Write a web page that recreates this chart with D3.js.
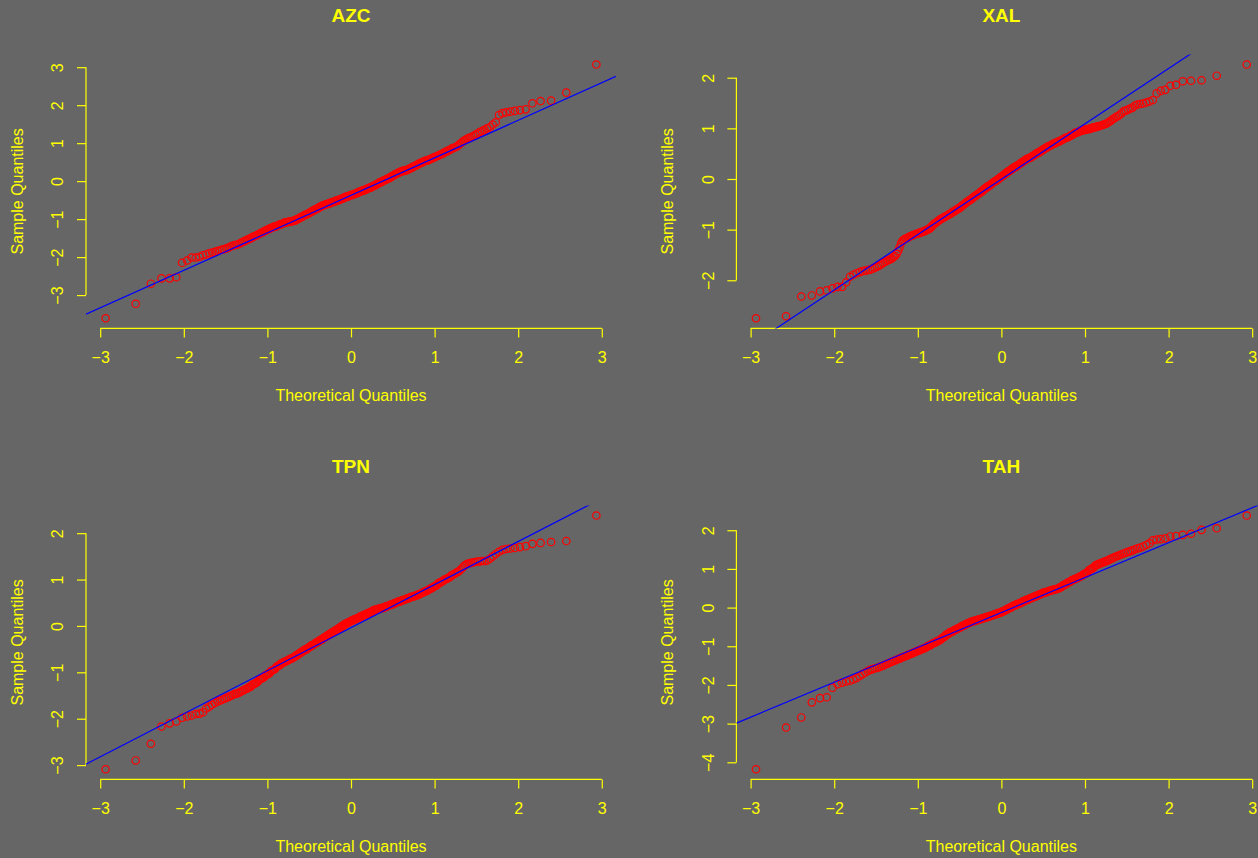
<!DOCTYPE html>
<html>
<head>
<meta charset="utf-8">
<script src="https://cdn.jsdelivr.net/npm/d3@7"></script>
<style>
  html, body { margin: 0; padding: 0; background: #666666; }
  svg { display: block; }
  text { font-family: "Liberation Sans", Arial, Helvetica, sans-serif; }
</style>
</head>
<body>
<svg id="chart" width="1258" height="858"></svg>
<script>
// Normal Q-Q plots of four standardised series (300 observations each), sorted sample values.
const seriesNames = ["AZC", "XAL", "TPN", "TAH"];

const azcValues = [
  -3.61,-3.23,-2.70,-2.56,-2.56,-2.53,-2.15,-2.09,-2.01,-2.01,
  -1.99,-1.95,-1.93,-1.90,-1.88,-1.86,-1.84,-1.82,-1.80,-1.79,
  -1.77,-1.75,-1.72,-1.70,-1.68,-1.68,-1.66,-1.64,-1.62,-1.60,
  -1.58,-1.56,-1.54,-1.52,-1.51,-1.48,-1.46,-1.45,-1.43,-1.42,
  -1.39,-1.38,-1.36,-1.35,-1.33,-1.31,-1.30,-1.28,-1.27,-1.25,
  -1.24,-1.23,-1.21,-1.20,-1.19,-1.19,-1.18,-1.16,-1.15,-1.14,
  -1.14,-1.13,-1.11,-1.10,-1.09,-1.09,-1.08,-1.08,-1.07,-1.07,
  -1.06,-1.06,-1.05,-1.05,-1.04,-1.04,-1.02,-1.01,-1.00,-0.99,
  -0.97,-0.96,-0.95,-0.94,-0.93,-0.91,-0.90,-0.89,-0.88,-0.88,
  -0.86,-0.85,-0.84,-0.83,-0.82,-0.80,-0.79,-0.78,-0.77,-0.76,
  -0.74,-0.74,-0.73,-0.72,-0.71,-0.69,-0.68,-0.67,-0.66,-0.65,
  -0.64,-0.64,-0.63,-0.62,-0.61,-0.61,-0.60,-0.60,-0.59,-0.58,
  -0.58,-0.57,-0.56,-0.55,-0.55,-0.55,-0.54,-0.53,-0.52,-0.51,
  -0.51,-0.50,-0.50,-0.49,-0.48,-0.47,-0.47,-0.46,-0.45,-0.44,
  -0.43,-0.42,-0.42,-0.41,-0.40,-0.40,-0.39,-0.39,-0.38,-0.37,
  -0.37,-0.36,-0.35,-0.35,-0.34,-0.34,-0.33,-0.32,-0.31,-0.31,
  -0.30,-0.29,-0.28,-0.27,-0.26,-0.26,-0.25,-0.25,-0.24,-0.23,
  -0.22,-0.22,-0.21,-0.20,-0.19,-0.18,-0.17,-0.17,-0.16,-0.15,
  -0.14,-0.13,-0.12,-0.11,-0.11,-0.09,-0.08,-0.07,-0.06,-0.05,
  -0.03,-0.03,-0.02,-0.01,0.00,0.01,0.02,0.03,0.04,0.05,
  0.06,0.07,0.08,0.09,0.10,0.12,0.13,0.14,0.15,0.16,
  0.18,0.19,0.20,0.21,0.22,0.23,0.24,0.25,0.26,0.27,
  0.27,0.27,0.28,0.29,0.29,0.30,0.32,0.33,0.34,0.35,
  0.37,0.38,0.39,0.40,0.41,0.43,0.44,0.46,0.47,0.48,
  0.49,0.50,0.52,0.53,0.54,0.54,0.55,0.57,0.58,0.59,
  0.61,0.62,0.63,0.65,0.66,0.67,0.69,0.70,0.72,0.73,
  0.76,0.77,0.79,0.81,0.82,0.85,0.87,0.88,0.90,0.92,
  0.96,0.99,1.03,1.06,1.09,1.12,1.14,1.16,1.19,1.22,
  1.25,1.29,1.32,1.35,1.39,1.42,1.49,1.55,1.74,1.79,
  1.81,1.83,1.85,1.87,1.89,2.05,2.11,2.12,2.33,3.07
];

const xalValues = [
  -2.75,-2.71,-2.32,-2.30,-2.22,-2.20,-2.16,-2.13,-2.13,-2.04,
  -1.93,-1.89,-1.86,-1.84,-1.82,-1.81,-1.80,-1.79,-1.77,-1.75,
  -1.73,-1.71,-1.69,-1.66,-1.64,-1.62,-1.60,-1.59,-1.57,-1.54,
  -1.52,-1.48,-1.42,-1.35,-1.27,-1.22,-1.20,-1.18,-1.17,-1.16,
  -1.14,-1.13,-1.12,-1.11,-1.10,-1.09,-1.08,-1.08,-1.07,-1.06,
  -1.05,-1.05,-1.04,-1.03,-1.02,-1.01,-1.00,-0.99,-0.98,-0.96,
  -0.94,-0.92,-0.90,-0.88,-0.87,-0.86,-0.84,-0.83,-0.81,-0.80,
  -0.79,-0.78,-0.77,-0.76,-0.75,-0.74,-0.73,-0.72,-0.71,-0.70,
  -0.69,-0.68,-0.67,-0.66,-0.65,-0.64,-0.63,-0.62,-0.61,-0.60,
  -0.59,-0.58,-0.57,-0.56,-0.55,-0.53,-0.52,-0.51,-0.50,-0.49,
  -0.47,-0.46,-0.45,-0.44,-0.43,-0.42,-0.41,-0.40,-0.39,-0.38,
  -0.36,-0.35,-0.34,-0.33,-0.32,-0.31,-0.30,-0.29,-0.28,-0.27,
  -0.26,-0.25,-0.24,-0.23,-0.22,-0.20,-0.19,-0.18,-0.17,-0.16,
  -0.15,-0.14,-0.14,-0.13,-0.12,-0.10,-0.09,-0.08,-0.07,-0.06,
  -0.05,-0.04,-0.03,-0.03,-0.02,0.00,0.01,0.02,0.03,0.04,
  0.05,0.06,0.07,0.08,0.09,0.10,0.12,0.12,0.13,0.14,
  0.15,0.16,0.17,0.18,0.19,0.20,0.21,0.22,0.23,0.24,
  0.24,0.25,0.26,0.27,0.28,0.29,0.30,0.31,0.32,0.33,
  0.34,0.35,0.36,0.37,0.38,0.39,0.40,0.40,0.41,0.42,
  0.42,0.43,0.44,0.45,0.46,0.47,0.48,0.49,0.50,0.51,
  0.51,0.52,0.53,0.54,0.55,0.56,0.57,0.58,0.59,0.60,
  0.61,0.62,0.63,0.64,0.65,0.65,0.66,0.67,0.68,0.69,
  0.70,0.70,0.71,0.72,0.73,0.74,0.74,0.75,0.76,0.77,
  0.78,0.79,0.80,0.81,0.82,0.82,0.83,0.84,0.85,0.87,
  0.87,0.88,0.90,0.91,0.92,0.92,0.93,0.94,0.95,0.96,
  0.96,0.97,0.97,0.98,0.98,0.99,0.99,1.00,1.01,1.02,
  1.02,1.03,1.04,1.04,1.05,1.06,1.07,1.08,1.09,1.11,
  1.13,1.15,1.18,1.20,1.23,1.24,1.27,1.30,1.34,1.35,
  1.37,1.39,1.41,1.45,1.47,1.48,1.49,1.51,1.53,1.56,
  1.69,1.74,1.76,1.84,1.86,1.93,1.94,1.95,2.04,2.26
];

const tpnValues = [
  -3.09,-2.90,-2.54,-2.17,-2.10,-2.06,-1.98,-1.95,-1.93,-1.90,
  -1.89,-1.86,-1.78,-1.74,-1.70,-1.66,-1.63,-1.61,-1.59,-1.57,
  -1.55,-1.53,-1.51,-1.49,-1.47,-1.46,-1.45,-1.43,-1.41,-1.39,
  -1.37,-1.36,-1.34,-1.32,-1.31,-1.27,-1.26,-1.24,-1.23,-1.21,
  -1.17,-1.15,-1.14,-1.12,-1.11,-1.07,-1.06,-1.04,-1.03,-1.02,
  -0.98,-0.96,-0.95,-0.94,-0.93,-0.89,-0.87,-0.86,-0.85,-0.84,
  -0.81,-0.80,-0.79,-0.78,-0.77,-0.76,-0.75,-0.74,-0.73,-0.72,
  -0.71,-0.70,-0.69,-0.68,-0.67,-0.66,-0.64,-0.63,-0.62,-0.61,
  -0.59,-0.58,-0.57,-0.56,-0.55,-0.53,-0.52,-0.51,-0.51,-0.50,
  -0.48,-0.47,-0.46,-0.45,-0.44,-0.42,-0.42,-0.41,-0.40,-0.39,
  -0.37,-0.36,-0.36,-0.35,-0.34,-0.32,-0.31,-0.30,-0.30,-0.29,
  -0.27,-0.26,-0.25,-0.24,-0.24,-0.22,-0.21,-0.20,-0.19,-0.19,
  -0.17,-0.16,-0.15,-0.15,-0.14,-0.12,-0.11,-0.10,-0.10,-0.09,
  -0.07,-0.06,-0.05,-0.05,-0.04,-0.02,-0.01,0.00,0.00,0.01,
  0.03,0.04,0.04,0.05,0.06,0.07,0.08,0.08,0.09,0.10,
  0.11,0.11,0.12,0.13,0.14,0.14,0.15,0.15,0.16,0.17,
  0.17,0.18,0.19,0.20,0.21,0.21,0.22,0.23,0.24,0.24,
  0.24,0.25,0.26,0.27,0.27,0.28,0.29,0.30,0.30,0.31,
  0.32,0.33,0.34,0.34,0.35,0.35,0.35,0.36,0.37,0.37,
  0.37,0.38,0.38,0.39,0.39,0.39,0.40,0.41,0.42,0.42,
  0.43,0.43,0.44,0.45,0.45,0.46,0.46,0.47,0.48,0.49,
  0.49,0.50,0.51,0.52,0.52,0.53,0.53,0.54,0.55,0.56,
  0.56,0.56,0.57,0.58,0.59,0.59,0.60,0.61,0.62,0.63,
  0.63,0.63,0.64,0.65,0.66,0.66,0.67,0.68,0.69,0.70,
  0.71,0.72,0.73,0.74,0.75,0.76,0.77,0.79,0.80,0.81,
  0.83,0.84,0.86,0.87,0.88,0.92,0.93,0.94,0.96,0.97,
  1.00,1.01,1.02,1.04,1.05,1.09,1.10,1.12,1.14,1.16,
  1.18,1.21,1.25,1.29,1.32,1.34,1.35,1.36,1.37,1.38,
  1.39,1.39,1.40,1.40,1.41,1.45,1.50,1.55,1.60,1.64,
  1.66,1.67,1.68,1.70,1.72,1.77,1.79,1.81,1.83,2.38
];

const tahValues = [
  -4.18,-3.10,-2.84,-2.45,-2.34,-2.32,-2.07,-1.98,-1.94,-1.91,
  -1.89,-1.86,-1.82,-1.77,-1.72,-1.68,-1.64,-1.61,-1.59,-1.57,
  -1.56,-1.54,-1.52,-1.50,-1.48,-1.46,-1.44,-1.42,-1.40,-1.38,
  -1.37,-1.35,-1.33,-1.32,-1.30,-1.28,-1.27,-1.26,-1.24,-1.23,
  -1.21,-1.20,-1.19,-1.17,-1.16,-1.15,-1.13,-1.12,-1.11,-1.10,
  -1.08,-1.07,-1.06,-1.05,-1.04,-1.02,-1.00,-0.99,-0.98,-0.97,
  -0.94,-0.93,-0.92,-0.91,-0.90,-0.88,-0.87,-0.86,-0.85,-0.84,
  -0.81,-0.80,-0.78,-0.76,-0.75,-0.73,-0.70,-0.69,-0.68,-0.67,
  -0.64,-0.63,-0.63,-0.62,-0.61,-0.59,-0.58,-0.57,-0.56,-0.55,
  -0.54,-0.53,-0.52,-0.51,-0.50,-0.48,-0.47,-0.47,-0.46,-0.45,
  -0.43,-0.42,-0.41,-0.41,-0.40,-0.39,-0.38,-0.37,-0.37,-0.36,
  -0.35,-0.35,-0.34,-0.34,-0.33,-0.33,-0.32,-0.31,-0.31,-0.30,
  -0.30,-0.29,-0.29,-0.28,-0.27,-0.27,-0.26,-0.26,-0.25,-0.24,
  -0.24,-0.23,-0.23,-0.22,-0.21,-0.21,-0.20,-0.20,-0.19,-0.18,
  -0.18,-0.17,-0.17,-0.16,-0.15,-0.15,-0.14,-0.13,-0.13,-0.12,
  -0.11,-0.10,-0.10,-0.09,-0.08,-0.07,-0.06,-0.05,-0.04,-0.03,
  -0.02,-0.01,0.00,0.01,0.01,0.03,0.04,0.05,0.05,0.06,
  0.07,0.08,0.09,0.09,0.10,0.11,0.12,0.12,0.13,0.14,
  0.16,0.16,0.17,0.18,0.19,0.20,0.20,0.21,0.22,0.23,
  0.24,0.24,0.25,0.26,0.27,0.28,0.28,0.29,0.30,0.31,
  0.32,0.33,0.33,0.34,0.35,0.36,0.37,0.38,0.39,0.39,
  0.39,0.40,0.41,0.42,0.43,0.43,0.44,0.44,0.45,0.46,
  0.46,0.47,0.47,0.48,0.48,0.49,0.51,0.52,0.53,0.54,
  0.57,0.58,0.59,0.60,0.61,0.64,0.65,0.66,0.67,0.69,
  0.71,0.72,0.73,0.74,0.75,0.77,0.78,0.79,0.81,0.82,
  0.85,0.86,0.88,0.89,0.90,0.96,0.98,1.00,1.01,1.03,
  1.08,1.10,1.11,1.13,1.14,1.16,1.17,1.19,1.20,1.22,
  1.24,1.26,1.28,1.30,1.32,1.34,1.36,1.38,1.40,1.42,
  1.44,1.46,1.48,1.51,1.53,1.55,1.58,1.62,1.66,1.74,
  1.76,1.77,1.79,1.84,1.85,1.88,1.91,2.01,2.05,2.38
];

// Axis tick values
const xTickValues = [-3, -2, -1, 0, 1, 2, 3];
const azcYTicks = [-3, -2, -1, 0, 1, 2, 3];
const xalYTicks = [-2, -1, 0, 1, 2];
const tpnYTicks = [-3, -2, -1, 0, 1, 2];
const tahYTicks = [-4, -3, -2, -1, 0, 1, 2];

const xLabel = "Theoretical Quantiles";
const yLabel = "Sample Quantiles";

// ---- layout ----
const W = 1258, H = 858;
const plotW = 530, plotH = 274;
const layout = [
  { left: 86,    top: 54.4 },
  { left: 736.4, top: 54.4 },
  { left: 86,    top: 505.4 },
  { left: 736.4, top: 505.4 }
];
const panels = [
  { name: seriesNames[0], values: azcValues, yTicks: azcYTicks },
  { name: seriesNames[1], values: xalValues, yTicks: xalYTicks },
  { name: seriesNames[2], values: tpnValues, yTicks: tpnYTicks },
  { name: seriesNames[3], values: tahValues, yTicks: tahYTicks }
];

const BG = "#666666", FG = "#ffff00", PT = "#ff0000", LINE = "#0000ff";
const LABEL_SIZE = 16, TITLE_SIZE = 19;

// Inverse standard normal CDF (Acklam's rational approximation)
function qnorm(p) {
  const a = [-3.969683028665376e+01, 2.209460984245205e+02, -2.759285104469687e+02,
             1.383577518672690e+02, -3.066479806614716e+01, 2.506628277459239e+00];
  const b = [-5.447609879822406e+01, 1.615858368580409e+02, -1.556989798598866e+02,
             6.680131188771972e+01, -1.328068155288572e+01];
  const c = [-7.784894002430293e-03, -3.223964580411365e-01, -2.400758277161838e+00,
             -2.549732539343734e+00, 4.374664141464968e+00, 2.938163982698783e+00];
  const d = [7.784695709041462e-03, 3.224671290700398e-01, 2.445134137142996e+00,
             3.754408661907416e+00];
  const plow = 0.02425, phigh = 1 - plow;
  let q, r;
  if (p < plow) {
    q = Math.sqrt(-2 * Math.log(p));
    return (((((c[0]*q + c[1])*q + c[2])*q + c[3])*q + c[4])*q + c[5]) /
           ((((d[0]*q + d[1])*q + d[2])*q + d[3])*q + 1);
  }
  if (p <= phigh) {
    q = p - 0.5; r = q * q;
    return (((((a[0]*r + a[1])*r + a[2])*r + a[3])*r + a[4])*r + a[5])*q /
           (((((b[0]*r + b[1])*r + b[2])*r + b[3])*r + b[4])*r + 1);
  }
  q = Math.sqrt(-2 * Math.log(1 - p));
  return -(((((c[0]*q + c[1])*q + c[2])*q + c[3])*q + c[4])*q + c[5]) /
          ((((d[0]*q + d[1])*q + d[2])*q + d[3])*q + 1);
}

// Plotting positions as used by qqnorm
function ppoints(n) {
  const a = n <= 10 ? 3 / 8 : 0.5;
  return d3.range(1, n + 1).map(i => (i - a) / (n + 1 - 2 * a));
}

// extend a range by 4% on each side
function padRange(ext) {
  const d = (ext[1] - ext[0]) * 0.04;
  return [ext[0] - d, ext[1] + d];
}

const minus = v => (v < 0 ? "\u2212" + Math.abs(v) : String(v));

const svg = d3.select("#chart");
svg.append("rect").attr("width", W).attr("height", H).attr("fill", BG);
const defs = svg.append("defs");

panels.forEach((p, k) => {
  const { left, top } = layout[k];
  const sorted = p.values.slice().sort(d3.ascending);
  const theo = ppoints(sorted.length).map(qnorm);
  const pts = sorted.map((v, i) => ({ t: theo[i], s: v }));

  const x = d3.scaleLinear().domain(padRange(d3.extent(theo))).range([left, left + plotW]);
  const y = d3.scaleLinear().domain(padRange(d3.extent(sorted))).range([top + plotH, top]);

  const g = svg.append("g").attr("class", "panel");

  const clipId = "clip" + k;
  defs.append("clipPath").attr("id", clipId)
    .append("rect").attr("x", left).attr("y", top).attr("width", plotW).attr("height", plotH);

  // x axis
  const xAxisG = g.append("g")
    .attr("transform", `translate(0,${top + plotH})`)
    .call(d3.axisBottom(x).tickValues(xTickValues).tickSize(9).tickFormat(minus));
  xAxisG.select(".domain").remove();
  xAxisG.selectAll(".tick line").attr("stroke", FG).attr("stroke-width", 1.2);
  xAxisG.selectAll(".tick text")
    .attr("fill", FG).attr("font-size", LABEL_SIZE)
    .attr("y", 34.5).attr("dy", null);
  xAxisG.append("line")
    .attr("x1", x(xTickValues[0])).attr("x2", x(xTickValues[xTickValues.length - 1]))
    .attr("y1", 0).attr("y2", 0)
    .attr("stroke", FG).attr("stroke-width", 1.2);

  // y axis
  const yAxisG = g.append("g")
    .attr("transform", `translate(${left},0)`)
    .call(d3.axisLeft(y).tickValues(p.yTicks).tickSize(9).tickFormat(minus));
  yAxisG.select(".domain").remove();
  yAxisG.selectAll(".tick line").attr("stroke", FG).attr("stroke-width", 1.2);
  yAxisG.selectAll(".tick text")
    .attr("fill", FG).attr("font-size", LABEL_SIZE)
    .attr("x", null).attr("dy", null)
    .attr("text-anchor", "middle")
    .attr("transform", "translate(-22.7,0) rotate(-90)");
  yAxisG.append("line")
    .attr("x1", 0).attr("x2", 0)
    .attr("y1", y(p.yTicks[0])).attr("y2", y(p.yTicks[p.yTicks.length - 1]))
    .attr("stroke", FG).attr("stroke-width", 1.2);

  // titles
  const cx = left + plotW / 2, cy = top + plotH / 2;
  g.append("text")
    .attr("x", cx).attr("y", top - 32.7)
    .attr("text-anchor", "middle")
    .attr("font-size", TITLE_SIZE).attr("font-weight", "bold")
    .attr("fill", FG).text(p.name);
  g.append("text")
    .attr("x", cx).attr("y", top + plotH + 73)
    .attr("text-anchor", "middle")
    .attr("font-size", LABEL_SIZE).attr("fill", FG).text(xLabel);
  g.append("text")
    .attr("transform", `translate(${left - 63.5},${cy}) rotate(-90)`)
    .attr("text-anchor", "middle")
    .attr("font-size", LABEL_SIZE).attr("fill", FG).text(yLabel);

  // sample points
  g.append("g").selectAll("circle")
    .data(pts)
    .join("circle")
    .attr("cx", d => x(d.t))
    .attr("cy", d => y(d.s))
    .attr("r", 3.7)
    .attr("fill", "none")
    .attr("stroke", PT)
    .attr("stroke-width", 1.2);

  // reference line through the first and third quartiles
  const q1 = d3.quantile(sorted, 0.25), q3 = d3.quantile(sorted, 0.75);
  const z1 = qnorm(0.25), z3 = qnorm(0.75);
  const slope = (q3 - q1) / (z3 - z1);
  const intercept = q1 - slope * z1;
  const [xa, xb] = x.domain();
  g.append("line")
    .attr("clip-path", `url(#${clipId})`)
    .attr("x1", x(xa)).attr("y1", y(intercept + slope * xa))
    .attr("x2", x(xb)).attr("y2", y(intercept + slope * xb))
    .attr("stroke", LINE).attr("stroke-width", 1.2);
});
</script>
</body>
</html>
